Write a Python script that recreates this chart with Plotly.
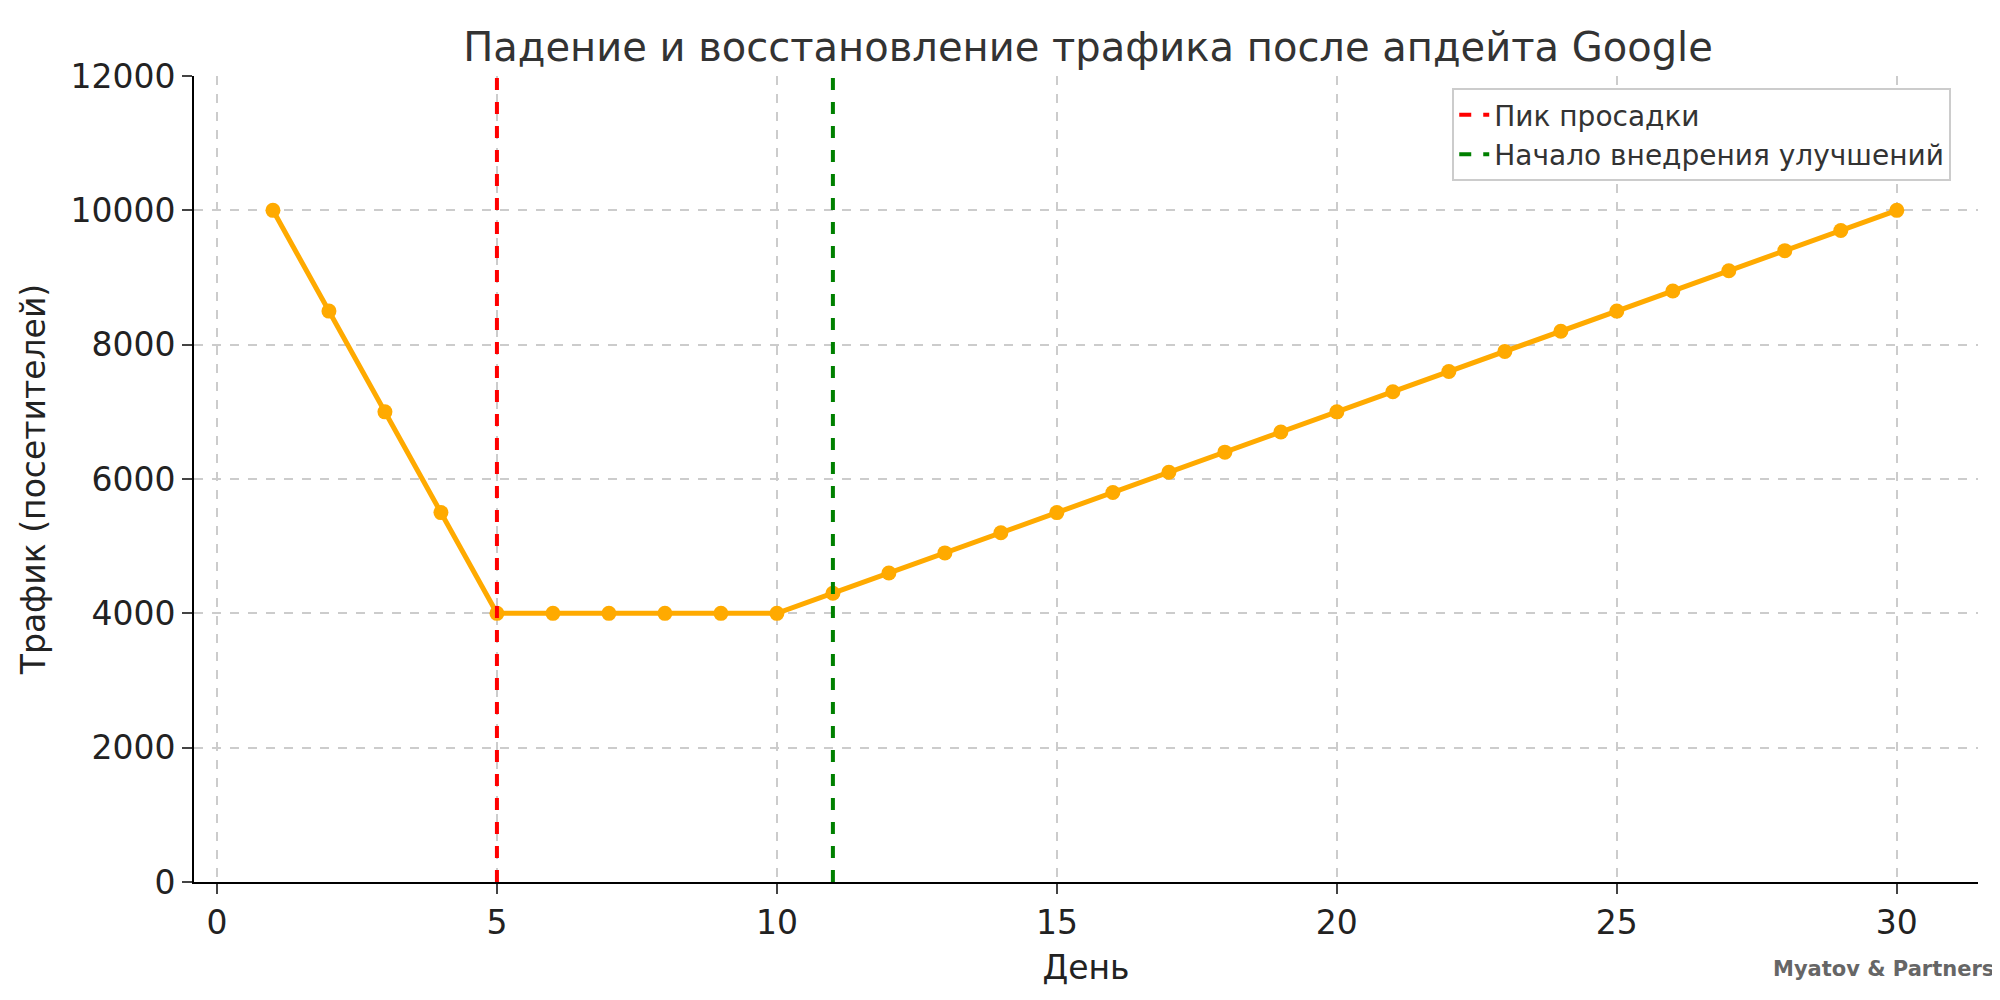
import plotly.graph_objects as go

days = list(range(1, 31))
traffic = [10000, 8500, 7000, 5500, 4000, 4000, 4000, 4000, 4000, 4000,
           4300, 4600, 4900, 5200, 5500, 5800, 6100, 6400, 6700, 7000,
           7300, 7600, 7900, 8200, 8500, 8800, 9100, 9400, 9700, 10000]
drop_day = 5
fix_day = 11
y_max = 12000

fig = go.Figure()
fig.add_trace(go.Scatter(x=days, y=traffic, mode="lines+markers",
                         line=dict(color="#FFAA00", width=5),
                         marker=dict(size=15, color="#FFAA00"), showlegend=False))
fig.add_trace(go.Scatter(x=[drop_day, drop_day], y=[0, y_max], mode="lines",
                         line=dict(color="red", width=4, dash="dash"), name="Пик просадки"))
fig.add_trace(go.Scatter(x=[fix_day, fix_day], y=[0, y_max], mode="lines",
                         line=dict(color="green", width=4, dash="dash"), name="Начало внедрения улучшений"))

font = "DejaVu Sans"
fig.update_layout(
    width=2000, height=1000, plot_bgcolor="white", paper_bgcolor="white",
    margin=dict(l=186, r=30, t=68, b=126),
    font=dict(family=font, size=33, color="#222"),
    title=dict(text="Падение и восстановление трафика после апдейта Google", x=0.54, xanchor="center",
               y=0.975, yanchor="top", font=dict(size=40, color="#333")),
    legend=dict(x=0.985, y=0.985, xanchor="right", yanchor="top", bgcolor="white",
                bordercolor="#ccc", borderwidth=2, font=dict(size=28, color="#333")),
    xaxis=dict(range=[-0.41, 31.45], tickvals=[0, 5, 10, 15, 20, 25, 30], showgrid=True,
               gridcolor="#cccccc", griddash="dash", gridwidth=1.5, showline=True, linecolor="black",
               linewidth=2, ticks="outside", ticklen=10, tickwidth=2, zeroline=False,
               title=dict(text="День", font=dict(size=33))),
    yaxis=dict(range=[0, y_max], tickvals=list(range(0, 12001, 2000)), tickformat="d", showgrid=True,
               gridcolor="#cccccc", griddash="dash", gridwidth=1.5, showline=True, linecolor="black",
               linewidth=2, ticks="outside", ticklen=10, tickwidth=2, zeroline=False,
               title=dict(text="Трафик (посетителей)", font=dict(size=33))),
)
fig.add_annotation(text="<b>Myatov & Partners</b>", xref="paper", yref="paper", x=1.01, y=-0.09,
                   xanchor="right", yanchor="top", showarrow=False, font=dict(size=21, color="#666"))
fig.write_html("out.html")
